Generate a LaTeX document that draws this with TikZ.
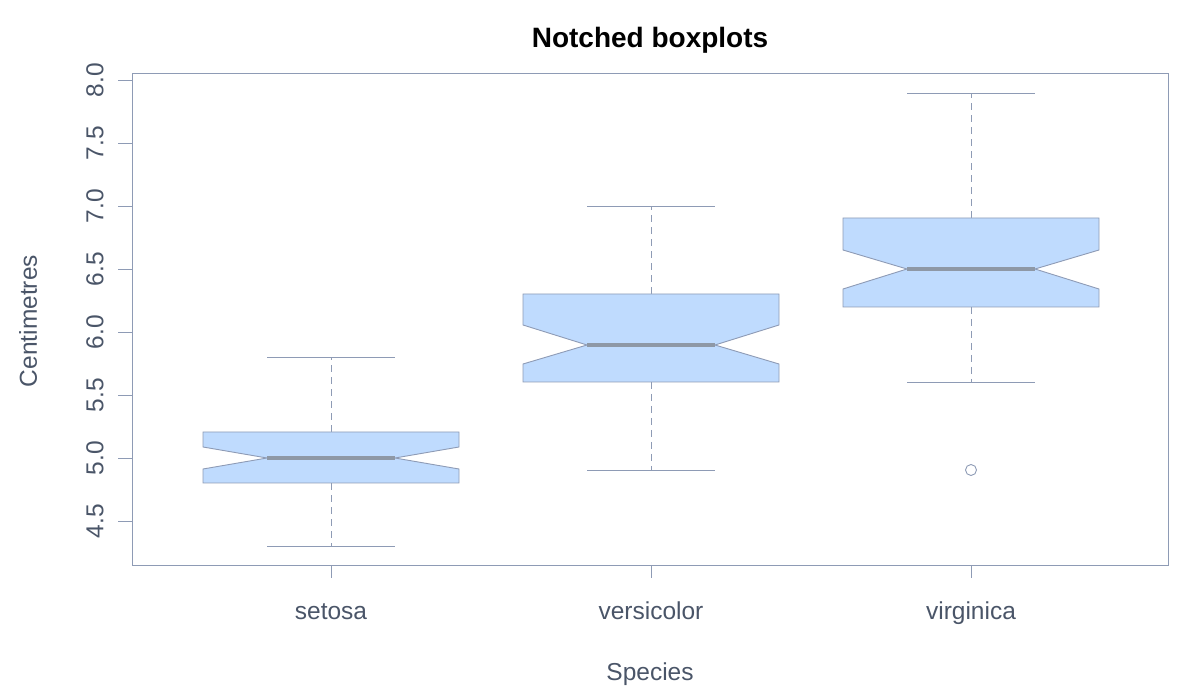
\documentclass[tikz,border=0pt]{standalone}
\usepackage{fontspec}
\setmainfont{Liberation Sans}
\definecolor{fillc}{HTML}{BFDBFE}
\definecolor{linec}{HTML}{8E9BB5}
\definecolor{medc}{HTML}{8E98A6}
\definecolor{txtc}{HTML}{4A5568}
\begin{document}
\begin{tikzpicture}[x=1pt,y=-1pt,
  ax/.style={draw=linec,line width=0.9pt},
  bx/.style={draw=linec,fill=fillc,line width=0.9pt},
  wh/.style={draw=linec,line width=0.9pt,dash pattern=on 7pt off 5pt},
  md/.style={draw=medc,line width=3.5pt},
  lab/.style={text=txtc,font=\fontsize{24.5}{28}\selectfont}]
\useasboundingbox (0,0) rectangle (1200,700);
\draw[ax] (132,73) rectangle (1168,565);
% y ticks
\foreach \v/\y in {4.5/521,5.0/458,5.5/395,6.0/332,6.5/269,7.0/206,7.5/143,8.0/80}{
  \draw[ax] (132,\y) -- (118,\y);
  \node[lab,rotate=90] at (95,\y) {\v};}
\foreach \x/\t in {331/setosa,651/versicolor,971/virginica}{
  \draw[ax] (\x,565) -- (\x,578);
  \node[lab,anchor=base] at (\x,619) {\t};}
\node[lab,anchor=base] at (650,680) {Species};
\node[lab,rotate=90] at (28,321) {Centimetres};
\node[font=\bfseries\fontsize{28}{32}\selectfont] at (650,40) {Notched boxplots};
% boxes: center, q1y, q3y, medy, nlo, nhi, wlo, whi
\foreach \c/\qa/\qb/\m/\na/\nb/\wa/\wb in {331/483/432/458/469/447/546/357, 651/382/294/345/364/325/470/206, 971/307/218/269/289/250/382/93}{
  \draw[wh] (\c,\qa) -- (\c,\wa);
  \draw[wh] (\c,\qb) -- (\c,\wb);
  \draw[ax] (\c-64,\wa) -- (\c+64,\wa);
  \draw[ax] (\c-64,\wb) -- (\c+64,\wb);
  \draw[bx] (\c-128,\qa) -- (\c-128,\na) -- (\c-64,\m) -- (\c-128,\nb) -- (\c-128,\qb)
     -- (\c+128,\qb) -- (\c+128,\nb) -- (\c+64,\m) -- (\c+128,\na) -- (\c+128,\qa) -- cycle;
  \draw[md] (\c-64,\m) -- (\c+64,\m);
}
\draw[ax] (971,470) circle (5.5);
\end{tikzpicture}
\end{document}
